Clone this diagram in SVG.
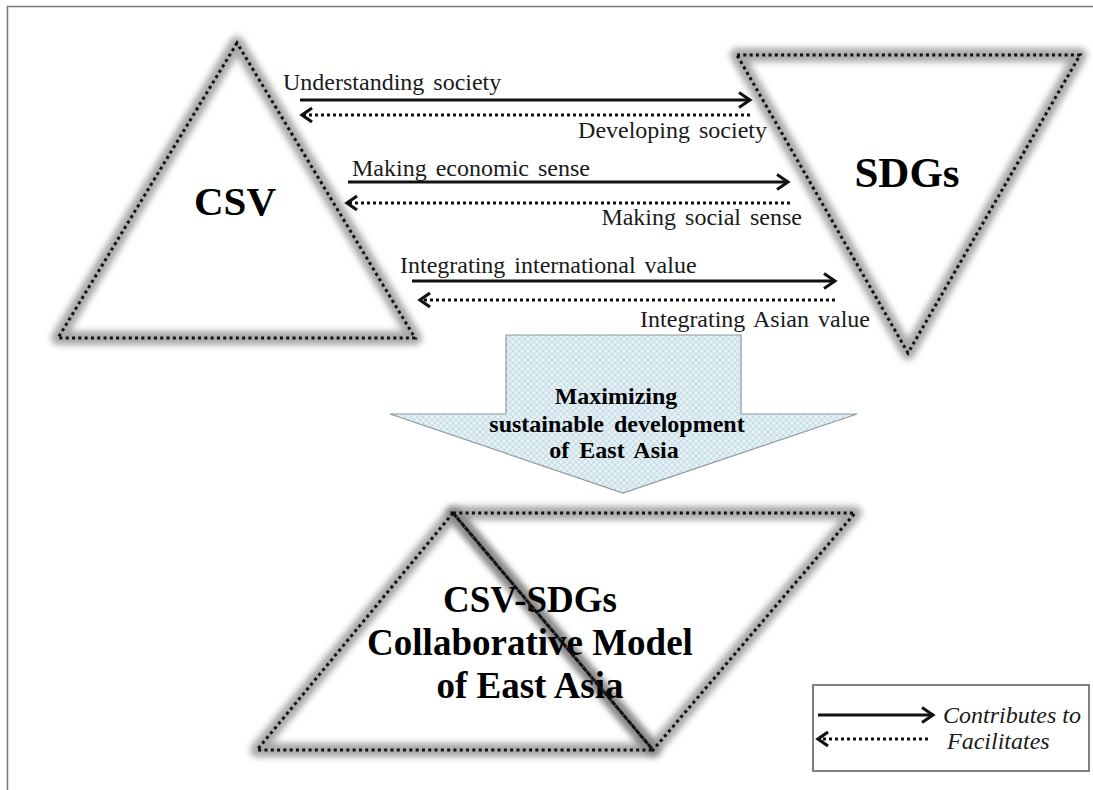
<svg xmlns="http://www.w3.org/2000/svg" width="1093" height="790" viewBox="0 0 1093 790">
  <defs>
    <filter id="blur" x="-20%" y="-20%" width="140%" height="140%">
      <feGaussianBlur stdDeviation="3.4"/>
    </filter>
    <pattern id="hatch" width="6" height="6" patternUnits="userSpaceOnUse">
      <rect width="6" height="6" fill="#e2f0f5"/>
      <path d="M0,0 L6,6 M6,0 L0,6" stroke="#bcd3dc" stroke-width="0.7"/>
    </pattern>
    <marker id="head" markerUnits="userSpaceOnUse" markerWidth="18" markerHeight="20" refX="14" refY="10" orient="auto" overflow="visible">
      <path d="M3,2.5 L14,10 L3,17.5" fill="none" stroke="#111" stroke-width="3"/>
    </marker>
    <marker id="headDot" markerUnits="userSpaceOnUse" markerWidth="18" markerHeight="20" refX="13" refY="10" orient="auto" overflow="visible">
      <path d="M3,3 L13,10 L3,17" fill="none" stroke="#111" stroke-width="3.2"/>
    </marker>
  </defs>
  <style>
    .shadow { fill: none; stroke: #727272; stroke-opacity: 0.6; stroke-width: 14; stroke-linejoin: round; filter: url(#blur); }
    .dots { fill: none; stroke: #111; stroke-width: 3; stroke-dasharray: 3 3.3; }
    .fill { fill: #fff; stroke: none; }
    .solid { stroke: #111; stroke-width: 3; fill: none; marker-end: url(#head); }
    .dotted { stroke: #111; stroke-width: 3; fill: none; stroke-dasharray: 3 3; marker-end: url(#headDot); }
    .lbl { font-family: "Liberation Serif", "Times New Roman", serif; font-size: 24px; fill: #1a1a1a; word-spacing: 3px; }
    .big { font-family: "Liberation Serif", "Times New Roman", serif; font-weight: bold; fill: #000; text-anchor: middle; }
    .leg { font-family: "Liberation Serif", "Times New Roman", serif; font-size: 24px; font-style: italic; fill: #1a1a1a; }
  </style>

  <rect width="1093" height="790" fill="#fff"/>
  <g id="frame">
    <path d="M7.5,790 L7.5,6.5 L1093,6.5" fill="none" stroke="#777" stroke-width="1.5"/>
  </g>

  <g id="csv">
    <polygon class="fill" points="237,43 58,338 415,338"/>
    <polygon class="shadow" points="237,43 58,338 415,338"/>
    <polygon class="dots" points="237,43 58,338 415,338"/>
    <text class="big" x="235" y="215" font-size="41">CSV</text>
  </g>

  <g id="sdgs">
    <polygon class="fill" points="737,55 1080,55 908,353"/>
    <polygon class="shadow" points="737,55 1080,55 908,353"/>
    <polygon class="dots" points="737,55 1080,55 908,353"/>
    <text class="big" x="907" y="187" font-size="43">SDGs</text>
  </g>

  <g id="connectors">
    <line class="solid" x1="300" y1="100" x2="750" y2="100"/>
    <line class="dotted" x1="750" y1="115" x2="302" y2="115"/>
    <line class="solid" x1="348" y1="182" x2="788" y2="182"/>
    <line class="dotted" x1="790" y1="203" x2="347" y2="203"/>
    <line class="solid" x1="412" y1="281" x2="835" y2="281"/>
    <line class="dotted" x1="835" y1="300" x2="420" y2="300"/>
  </g>

  <g id="labels">
    <text class="lbl" x="283" y="90">Understanding society</text>
    <text class="lbl" x="767" y="138" text-anchor="end">Developing society</text>
    <text class="lbl" x="352" y="176">Making economic sense</text>
    <text class="lbl" x="802" y="225" text-anchor="end">Making social sense</text>
    <text class="lbl" x="400" y="273">Integrating international value</text>
    <text class="lbl" x="870" y="327" text-anchor="end">Integrating Asian value</text>
  </g>

  <g id="bigArrow">
    <polygon points="506,335 741,335 741,414 857,414 623,493 390,414 506,414" fill="url(#hatch)" stroke="#8f9a9e" stroke-width="1.2"/>
    <text class="big" font-size="24" word-spacing="4" x="616" y="404">Maximizing</text>
    <text class="big" font-size="24" word-spacing="4" x="617" y="432">sustainable development</text>
    <text class="big" font-size="24" word-spacing="4" x="614" y="458">of East Asia</text>
  </g>

  <g id="model">
    <polygon class="fill" points="453,513 855,513 653,750 257,750"/>
    <polygon class="shadow" points="453,513 257,750 653,750"/>
    <polygon class="shadow" points="453,513 855,513 653,750"/>
    <text class="big" font-size="37" x="530" y="612">CSV-SDGs</text>
    <text class="big" font-size="37" x="530" y="655">Collaborative Model</text>
    <text class="big" font-size="37" x="530" y="698">of East Asia</text>
    <polygon class="dots" points="453,513 257,750 653,750"/>
    <polygon class="dots" points="453,513 855,513 653,750"/>
  </g>

  <g id="legend">
    <rect x="813" y="685" width="276" height="86" fill="#fff" stroke="#555" stroke-width="1.5"/>
    <line class="solid" x1="818" y1="715" x2="933" y2="715"/>
    <line class="dotted" x1="928" y1="739" x2="818" y2="739"/>
    <text class="leg" x="943" y="723">Contributes to</text>
    <text class="leg" x="947" y="749">Facilitates</text>
  </g>
</svg>
